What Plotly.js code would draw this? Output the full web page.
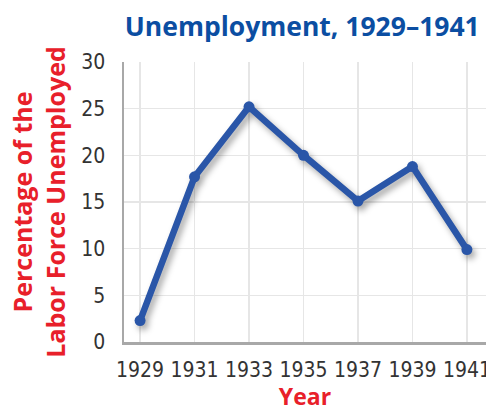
<!DOCTYPE html>
<html>
<head>
<meta charset="utf-8">
<script src="https://cdn.plot.ly/plotly-3.0.1.min.js"></script>
<style>
html,body{margin:0;padding:0;background:#fff;}
#chart{width:486px;height:412px;}
</style>
</head>
<body>
<div id="chart"></div>
<script>
const years = [1929, 1931, 1933, 1935, 1937, 1939, 1941];
const unemployment = [2.3, 17.7, 25.2, 20.0, 15.1, 18.8, 9.9];
const yTicks = [0, 5, 10, 15, 20, 25, 30];

const tickFont = {family: 'DejaVu Sans Condensed, Roboto, sans-serif', size: 21, color: '#333333', weight: 300};

const trace = {
  x: years,
  y: unemployment,
  type: 'scatter',
  mode: 'lines+markers',
  line: {color: '#2a56a8', width: 6.5},
  marker: {color: '#2a56a8', size: 11},
  hoverinfo: 'skip'
};

const layout = {
  width: 486,
  height: 412,
  margin: {l: 124, r: 0, t: 62, b: 70},
  paper_bgcolor: '#ffffff',
  plot_bgcolor: '#ffffff',
  showlegend: false,
  title: {
    text: 'Unemployment, 1929–1941',
    font: {family: 'Open Sans', size: 26.5, color: '#0b4ea2', weight: 'bold'},
    x: 0.622, xanchor: 'center',
    y: 0.936, yanchor: 'middle'
  },
  xaxis: {
    range: [1928.41, 1941.7],
    tickvals: years,
    ticktext: years.map(String),
    tickfont: tickFont,
    ticks: '',
    ticklabelstandoff: 7,
    ticklabeloverflow: 'allow',
    showgrid: true,
    gridcolor: '#e6e6e6',
    gridwidth: 1.5,
    showline: true,
    linecolor: '#a8a8a8',
    linewidth: 2.5,
    zeroline: false,
    fixedrange: true,
    title: {
      text: 'Year',
      font: {family: 'Open Sans', size: 23, color: '#e8202a', weight: 'bold'},
      standoff: 18
    }
  },
  yaxis: {
    range: [0, 30],
    tickvals: yTicks,
    tickfont: tickFont,
    ticks: '',
    ticklabelstandoff: 12,
    ticklabeloverflow: 'allow',
    showgrid: true,
    gridcolor: '#e6e6e6',
    gridwidth: 1.5,
    showline: true,
    linecolor: '#a8a8a8',
    linewidth: 2.5,
    zeroline: false,
    fixedrange: true,
    title: {
      text: 'Percentage of the<br>Labor Force Unemployed',
      font: {family: 'Open Sans', size: 25, color: '#e8202a', weight: 'bold'},
      standoff: 9
    }
  }
};

Plotly.newPlot('chart', [trace], layout, {displayModeBar: false, staticPlot: true}).then(function () {
  document.querySelectorAll('.scatterlayer .trace').forEach(function (g) {
    g.style.filter = 'drop-shadow(3px 4px 3px rgba(0,0,0,0.35))';
  });
});
</script>
</body>
</html>
